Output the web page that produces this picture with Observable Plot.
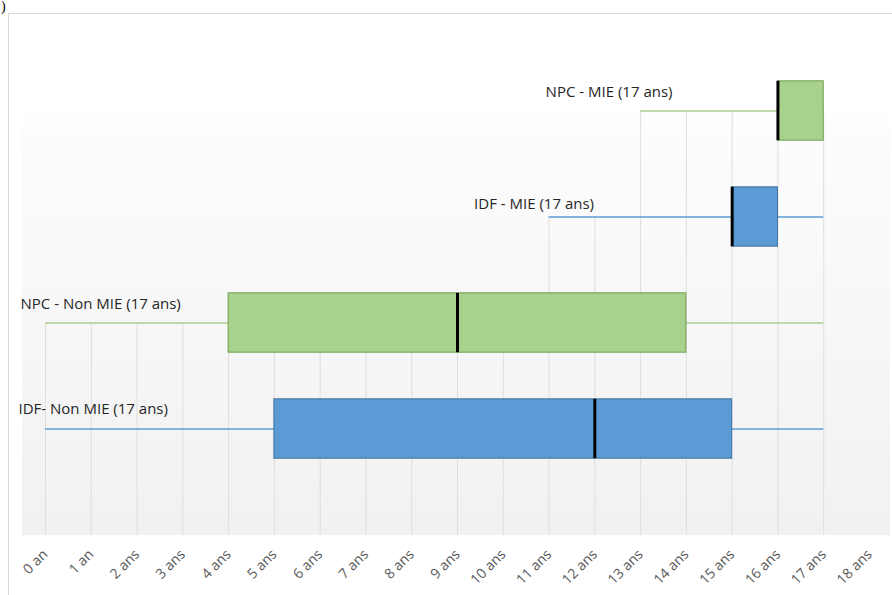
<!DOCTYPE html>
<html><head><meta charset="utf-8">
<script src="https://cdn.jsdelivr.net/npm/d3@7"></script>
<script src="https://cdn.jsdelivr.net/npm/@observablehq/plot@0.6"></script>
<style>
html,body{margin:0;padding:0;background:#fff;width:892px;height:595px;overflow:hidden;}
#wrap{position:relative;width:892px;height:595px;overflow:hidden;}
#frame{position:absolute;left:8px;top:13px;width:900px;height:600px;border:1px solid #d9d9d9;box-sizing:border-box;}
#bg{position:absolute;left:22px;top:113px;width:868px;height:422px;background:linear-gradient(#fdfdfd,#f1f1f1);}
#chart{position:absolute;left:0;top:0;}
#mark{position:absolute;left:1px;top:0px;font:14px/14px "Liberation Serif";color:#000;}
</style>
</head><body>
<div id="wrap"><div id="frame"></div><div id="bg"></div><div id="mark">)</div><div id="chart"></div></div>
<script>
// ---- data ----
const categories = ["IDF- Non MIE (17 ans)", "NPC - Non MIE (17 ans)", "IDF - MIE (17 ans)", "NPC - MIE (17 ans)"];
const groups = ["IDF", "NPC", "IDF", "NPC"];
const whiskerLow = [0, 0, 11, 13];
const q1 = [5, 4, 15, 16];
const median = [12, 9, 15, 16];
const q3 = [15, 14, 16, 17];
const whiskerHigh = [17, 17, 17, 17];
const tickValues = [0,1,2,3,4,5,6,7,8,9,10,11,12,13,14,15,16,17,18];
const tickLabels = ["0 an","1 an","2 ans","3 ans","4 ans","5 ans","6 ans","7 ans","8 ans","9 ans","10 ans","11 ans","12 ans","13 ans","14 ans","15 ans","16 ans","17 ans","18 ans"];

// ---- styling / layout ----
const fillColor = {IDF: "#5b9bd5", NPC: "#a9d18e"};
const strokeColor = {IDF: "#41719c", NPC: "#6f9f4e"};
const whiskerColor = {IDF: "#5b9bd5", NPC: "#a9d18e"};
const labelDx = [-27, -25, -75, -95];
const labelDy = [-20, -19, -13, -19];
const half = 0.28;

const rows = categories.map((c, i) => ({
  label: c, row: i + 1, group: groups[i],
  lo: whiskerLow[i], q1: q1[i], med: median[i], q3: q3[i], hi: whiskerHigh[i]
}));

const grid = tickValues.map(k => {
  const cover = rows.filter(r => r.lo <= k && k <= r.hi);
  return cover.length ? {k, top: d3.max(cover, r => r.row)} : null;
}).filter(Boolean);

const chart = Plot.plot({
  width: 892, height: 595,
  marginLeft: 45, marginRight: 23, marginTop: 4.5, marginBottom: 60.5,
  x: {domain: [0, 18], ticks: tickValues, tickFormat: i => tickLabels[i], tickRotate: -45, tickSize: 0, tickPadding: 17, label: null},
  y: {domain: [0, 5], axis: null},
  color: {type: "identity"},
  style: {background: "transparent", fontFamily: "Open Sans", fontSize: "14px", color: "#595959"},
  marks: [
    Plot.ruleX(grid, {x: "k", y1: "top", y2: 0, stroke: "#dedede", strokeWidth: 1}),
    Plot.ruleY(rows, {y: "row", x1: "lo", x2: "hi", stroke: d => whiskerColor[d.group], strokeWidth: 1.5}),
    Plot.rect(rows, {x1: "q1", x2: "q3", y1: d => d.row - half, y2: d => d.row + half,
      fill: d => fillColor[d.group], stroke: d => strokeColor[d.group], strokeWidth: 1}),
    Plot.ruleX(rows, {x: "med", y1: d => d.row - half, y2: d => d.row + half, stroke: "#000", strokeWidth: 3}),
    ...rows.map((r, i) => Plot.text([r], {x: "lo", y: "row", text: "label", textAnchor: "start",
      dx: labelDx[i], dy: labelDy[i], fontSize: 15, fill: "#262626", fontFamily: "Open Sans"}))
  ]
});
document.getElementById("chart").appendChild(chart);
</script>
</body></html>
